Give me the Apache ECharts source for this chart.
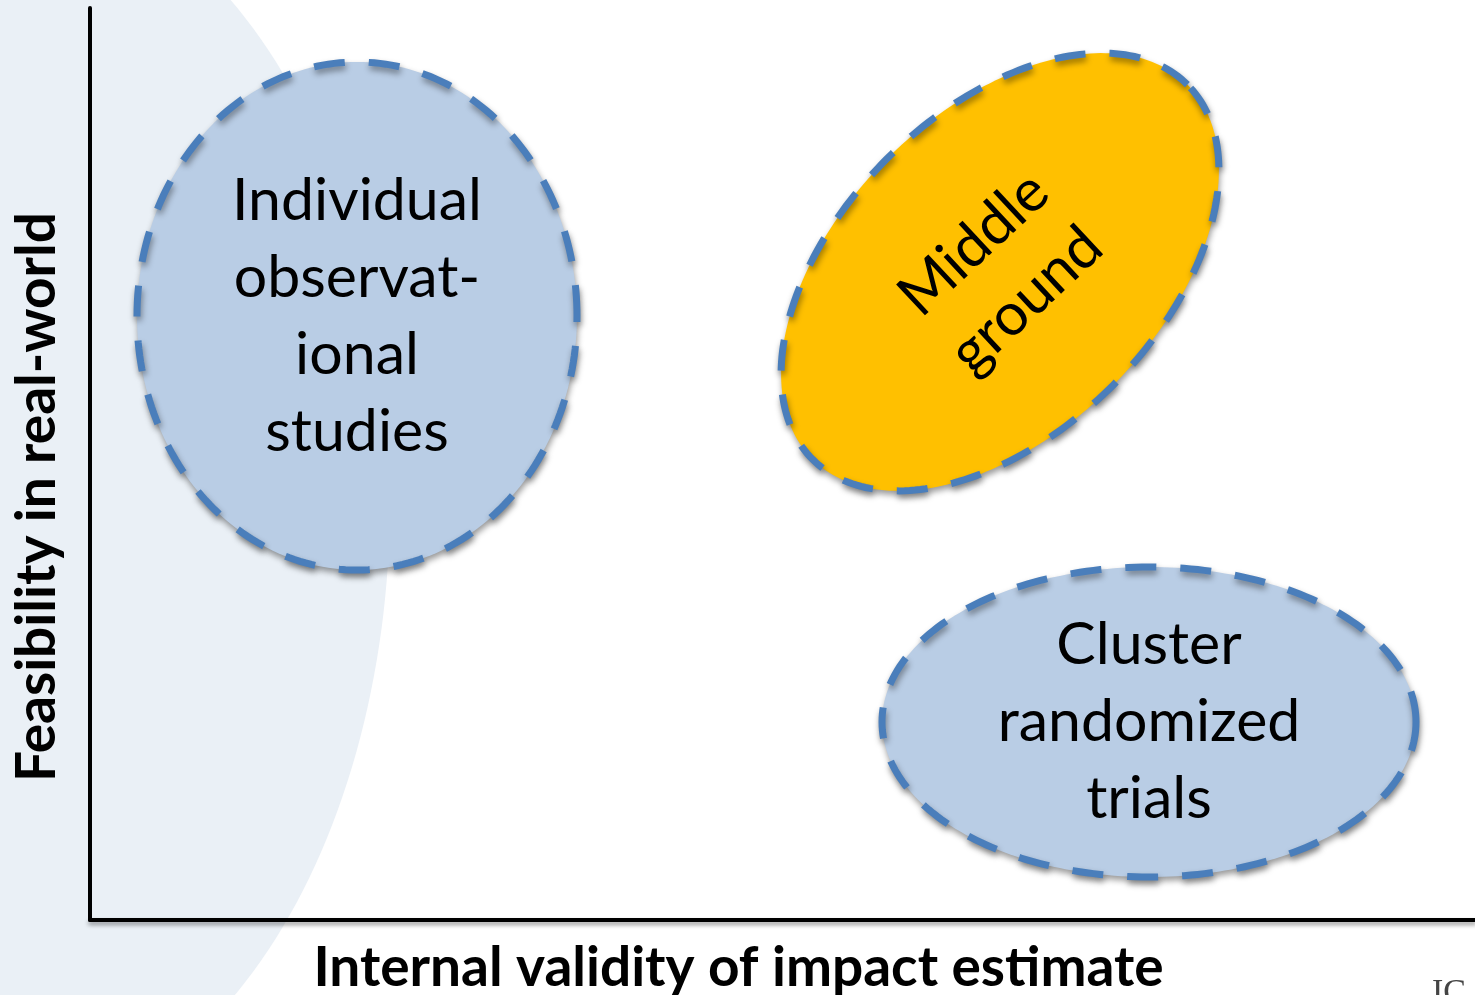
<!DOCTYPE html>
<html>
<head>
<meta charset="utf-8">
<script src="https://cdn.jsdelivr.net/npm/echarts@6/dist/echarts.min.js"></script>
<style>
html,body{margin:0;padding:0;background:#fff;}
#chart{width:1475px;height:995px;}
</style>
</head>
<body>
<div id="chart"></div>
<script>
// ---- data (axis units: 1 unit = 10 px on both axes) ----
const categories = ['Individual observational studies', 'Middle ground', 'Cluster randomized trials'];
const labelLines = [['Individual', 'observat-', 'ional', 'studies'], ['Middle', 'ground'], ['Cluster', 'randomized', 'trials']];
const centerX = [26.7, 91.0, 105.9];
const centerY = [60.4, 64.8, 19.8];
const radiusX = [22.0, 26.5, 26.7];
const radiusY = [25.4, 16.0, 15.5];
const tiltDeg = [0, 45, 0];
const textTiltDeg = [0, 43, 0];
const fillColors = ['#b9cde5', '#ffc000', '#b9cde5'];
const xAxisTitle = 'Internal validity of impact estimate';
const yAxisTitle = 'Feasibility in real-world';

const chart = echarts.init(document.getElementById('chart'));

const seriesData = categories.map((c, i) => ({
  name: c,
  value: [centerX[i], centerY[i], radiusX[i], radiusY[i], tiltDeg[i], textTiltDeg[i]]
}));

function renderItem(params, api) {
  const i = params.dataIndex;
  const c = api.coord([api.value(0), api.value(1)]);
  const s = api.size([api.value(2), api.value(3)]);
  const a = s[0], b = s[1];
  const phi = api.value(4) * Math.PI / 180;
  const pts = [];
  const N = 240;
  for (let k = 0; k < N; k++) {
    const t = 2 * Math.PI * k / N;
    const ex = a * Math.cos(t), ey = b * Math.sin(t);
    pts.push([c[0] + ex * Math.cos(phi) - ey * Math.sin(phi),
              c[1] - (ex * Math.sin(phi) + ey * Math.cos(phi))]);
  }
  return {
    type: 'group',
    children: [
      {
        type: 'polygon',
        shape: { points: pts },
        style: {
          fill: fillColors[i],
          stroke: '#4a7ebb',
          lineWidth: 7,
          lineDash: [31, 24],
          shadowBlur: 6,
          shadowOffsetY: 4,
          shadowOffsetX: 1,
          shadowColor: 'rgba(0,0,0,0.4)'
        }
      },
      {
        type: 'text',
        x: c[0],
        y: c[1],
        rotation: api.value(5) * Math.PI / 180,
        style: {
          text: labelLines[i].join('\n'),
          font: '59px Lato',
          lineHeight: 77,
          fill: '#000',
          align: 'center',
          verticalAlign: 'middle'
        }
      }
    ]
  };
}

// watermark-like decorative background shape
const wm = [];
for (let k = 0; k <= 120; k++) {
  const t = -Math.PI / 2 + Math.PI * k / 120;
  wm.push([0 + 390 * Math.cos(t), 500 + 620 * Math.sin(t)]);
}

chart.setOption({
  animation: false,
  backgroundColor: '#ffffff',
  graphic: [
    { type: 'polygon', z: -10, silent: true, shape: { points: wm }, style: { fill: '#eaf0f6' } },
    { type: 'text', left: 1432, top: 976, silent: true, style: { text: 'IC', font: '34px "Liberation Serif"', fill: '#444' } }
  ],
  grid: { left: 90, right: 0, top: 8, bottom: 75, containLabel: false, outerBoundsMode: 'none' },
  xAxis: {
    type: 'value', min: 0, max: 138.5,
    name: xAxisTitle,
    nameLocation: 'middle',
    nameGap: 21,
    nameTextStyle: { fontFamily: 'Lato', fontWeight: 'bold', fontSize: 55, color: '#000', padding: [0, 88, 0, 0] },
    axisLine: { show: true, onZero: false, lineStyle: { color: '#000', width: 4, shadowBlur: 4, shadowOffsetY: 3, shadowColor: 'rgba(0,0,0,0.4)' } },
    axisTick: { show: false }, axisLabel: { show: false }, splitLine: { show: false }
  },
  yAxis: {
    type: 'value', min: 0, max: 91.2,
    name: yAxisTitle,
    nameLocation: 'middle',
    nameGap: 25,
    nameTextStyle: { fontFamily: 'Lato', fontWeight: 'bold', fontSize: 55, color: '#000', padding: [0, 66, 0, 0] },
    axisLine: { show: true, onZero: false, lineStyle: { color: '#000', width: 4 } },
    axisTick: { show: false }, axisLabel: { show: false }, splitLine: { show: false }
  },
  series: [{
    type: 'custom',
    renderItem: renderItem,
    data: seriesData,
    clip: false
  }]
});
</script>
</body>
</html>
